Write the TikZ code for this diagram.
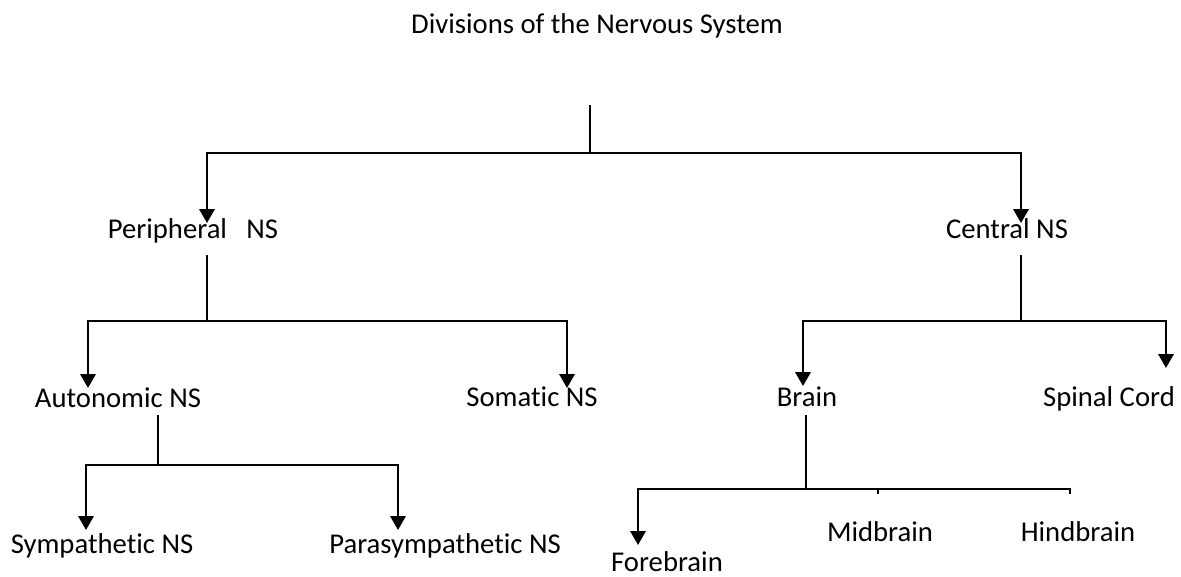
\documentclass[tikz,border=0pt]{standalone}
\usepackage{fontspec}
\setmainfont{Carlito}[Ligatures=NoCommon]
\usetikzlibrary{arrows.meta}
\begin{document}
\begin{tikzpicture}[x=0.75pt,y=-0.75pt,
 lbl/.style={anchor=base,inner sep=0pt,font=\fontsize{21.5}{26}\selectfont},
 conn/.style={line width=1.9pt},
 arr/.style={conn,-{Triangle[length=10.5pt,width=11.5pt]}}]
\useasboundingbox (0,0) rectangle (1181,576);
% texts
\node[lbl] (title) at (597,33) {Divisions of the Nervous System};
\node[lbl] (pns) at (193,238) {Peripheral\ \ \ NS};
\node[lbl] (cns) at (1007,238) {Central NS};
\node[lbl] (auto) at (118,407) {Autonomic NS};
\node[lbl] (soma) at (532,406) {Somatic NS};
\node[lbl] (brain) at (807,406) {Brain};
\node[lbl] (spinal) at (1109,406) {Spinal Cord};
\node[lbl] (symp) at (102,553) {Sympathetic NS};
\node[lbl] (para) at (445,553) {Parasympathetic NS};
\node[lbl] (fore) at (667,571) {Forebrain};
\node[lbl] (mid) at (880,541) {Midbrain};
\node[lbl] (hind) at (1078,541) {Hindbrain};
% junction / end coordinates
\coordinate (top) at (590,105);
\coordinate (j0) at (590,153);
\coordinate (pnsTip) at (207,223);
\coordinate (cnsTip) at (1021,223);
\coordinate (pnsOut) at (207,255);
\coordinate (j1) at (207,321);
\coordinate (autoTip) at (88,388);
\coordinate (somaTip) at (567,388);
\coordinate (cnsOut) at (1021,255);
\coordinate (j2) at (1021,321);
\coordinate (brainTip) at (803,386);
\coordinate (spinalTip) at (1166,368);
\coordinate (autoOut) at (158,415);
\coordinate (j3) at (158,465);
\coordinate (sympTip) at (86,530);
\coordinate (paraTip) at (398,530);
\coordinate (brainOut) at (806,415);
\coordinate (j4) at (806,489);
\coordinate (foreTip) at (638,545);
\coordinate (hindEnd) at (1070,494);
\coordinate (midA) at (878,489);
\coordinate (midB) at (878,494);
% connectors
\draw[conn] (top) -- (j0);
\draw[arr] (j0) -| (pnsTip);
\draw[arr] (j0) -| (cnsTip);
\draw[conn] (pnsOut) -- (j1);
\draw[arr] (j1) -| (autoTip);
\draw[arr] (j1) -| (somaTip);
\draw[conn] (cnsOut) -- (j2);
\draw[arr] (j2) -| (brainTip);
\draw[arr] (j2) -| (spinalTip);
\draw[conn] (autoOut) -- (j3);
\draw[arr] (j3) -| (sympTip);
\draw[arr] (j3) -| (paraTip);
\draw[conn] (brainOut) -- (j4);
\draw[arr] (j4) -| (foreTip);
\draw[conn] (j4) -| (hindEnd);
\draw[conn] (midA) -- (midB);
\end{tikzpicture}
\end{document}
